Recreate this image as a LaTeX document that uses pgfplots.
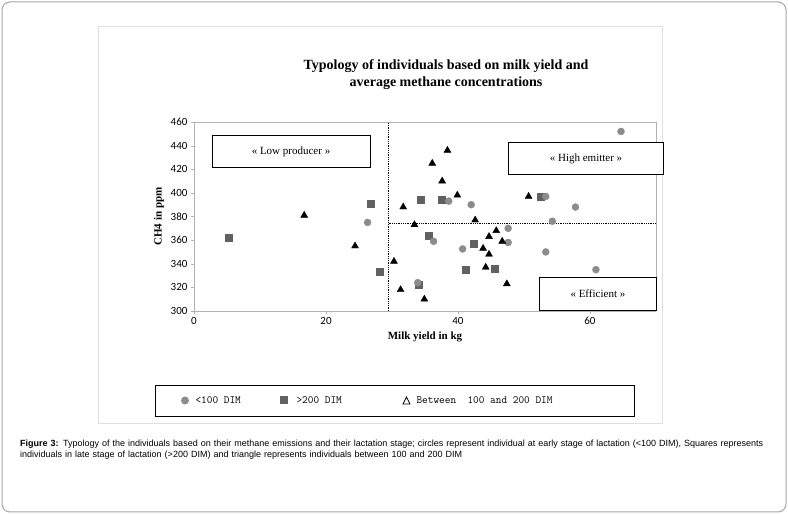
\documentclass[border=0pt]{standalone}
\usepackage{pgfplots}
\pgfplotsset{compat=1.18}
\usepackage{fontspec}
\setmainfont{Liberation Serif}
\newfontfamily\arialf{Liberation Sans}
\newfontfamily\carl{Carlito}
\begin{document}
\begin{tikzpicture}[x=1pt,y=1pt]
\path[use as bounding box] (0,0) rectangle (788,514);
\draw[gray!70, line width=1pt, rounded corners=8pt, fill=white] (2,2) rectangle (786,512);
\draw[gray!25, line width=1pt] (98,514-27) rectangle (662,514-424);
\node[font=\bfseries\fontsize{14}{17}\selectfont, align=center] at (446,514-75) {Typology of individuals based on milk yield and\\average methane concentrations};
\begin{axis}[at={(194pt,203pt)}, anchor=south west, scale only axis,
 width=462pt, height=189pt, xmin=0, xmax=70, ymin=300, ymax=460,
 xtick={0,20,40,60}, ytick={300,320,...,460},
 axis x line*=bottom, axis y line*=left, axis line style={gray!60},
 tick style={gray!60}, tick align=outside, major tick length=3pt,
 ticklabel style={font=\carl\fontsize{11}{13}\selectfont},
 /pgf/number format/assume math mode=true,
 xlabel={\bfseries Milk yield in kg}, ylabel={\bfseries CH4 in ppm},
 label style={font=\bfseries\fontsize{11}{13}\selectfont},
 clip=false]
\draw[gray!60] (axis cs:0,460) -- (axis cs:70,460) -- (axis cs:70,300);
\draw[densely dotted, black, thick] (axis cs:29.5,300) -- (axis cs:29.5,460);
\draw[densely dotted, black, thick] (axis cs:29.5,374) -- (axis cs:70,374);
\addplot[only marks, mark=square*, mark size=3.5pt, color=black!62] coordinates {
(5.3,362)(26.7,391)(28.2,333)(34.3,394)(37.5,394)(35.6,364)(42.4,357)(41.1,335)(45.5,336)(52.5,397)(34.0,322)};
\addplot[only marks, mark=*, mark size=3.5pt, color=black!45] coordinates {
(26.3,375)(36.3,359)(38.6,393)(42.0,390)(40.7,352.5)(47.6,370)(47.6,358)(53.3,397)(54.3,376)(53.3,350)(57.8,388)(60.9,335)(64.7,452)(33.9,324)};
\addplot[only marks, mark=triangle*, mark size=4pt, color=black] coordinates {
(16.7,381)(24.4,355)(30.3,342)(31.3,318)(31.7,388)(33.4,373)(34.9,310)(36.1,425)(37.6,410)(38.4,436)(39.9,398)(42.6,377)(43.8,353)(44.2,337)(44.7,348)(44.7,363)(45.8,368)(46.7,359)(47.4,323)(50.7,397)};
\node[draw, fill=white, font=\fontsize{11}{13}\selectfont, minimum width=158pt, minimum height=32pt] at (axis cs:14.7,435) {« Low producer »};
\node[draw, fill=white, font=\fontsize{11}{13}\selectfont, minimum width=155pt, minimum height=32pt] at (axis cs:59.4,429) {« High emitter »};
\node[draw, fill=white, font=\fontsize{11}{13}\selectfont, minimum width=117pt, minimum height=33pt] at (axis cs:61.2,315) {« Efficient »};
\end{axis}
\draw (155,514-385) rectangle (634,514-416);
\begin{scope}[font=\fontsize{11}{13}\selectfont\ttfamily]
\fill[black!45] (185,514-400.5) circle (4pt);
\node[anchor=west] at (192,514-400.5) {<100 DIM};
\fill[black!62] (280,514-404.5) rectangle (288,514-396.5);
\node[anchor=west] at (293,514-400.5) {>200 DIM};
\draw[thick] (403,514-404) -- (410,514-404) -- (406.5,514-397) -- cycle;
\node[anchor=west] at (413,514-400.5) {Between~ 100 and 200 DIM};
\end{scope}
\node[anchor=north west, text width=752pt, align=left, font=\arialf\fontsize{9}{11}\selectfont, inner sep=0pt] at (20,514-440) {\textbf{Figure 3:} Typology of the individuals based on their methane emissions and their lactation stage; circles represent individual at early stage of lactation (<100 DIM), Squares represents individuals in late stage of lactation (>200 DIM) and triangle represents individuals between 100 and 200 DIM};
\end{tikzpicture}
\end{document}
